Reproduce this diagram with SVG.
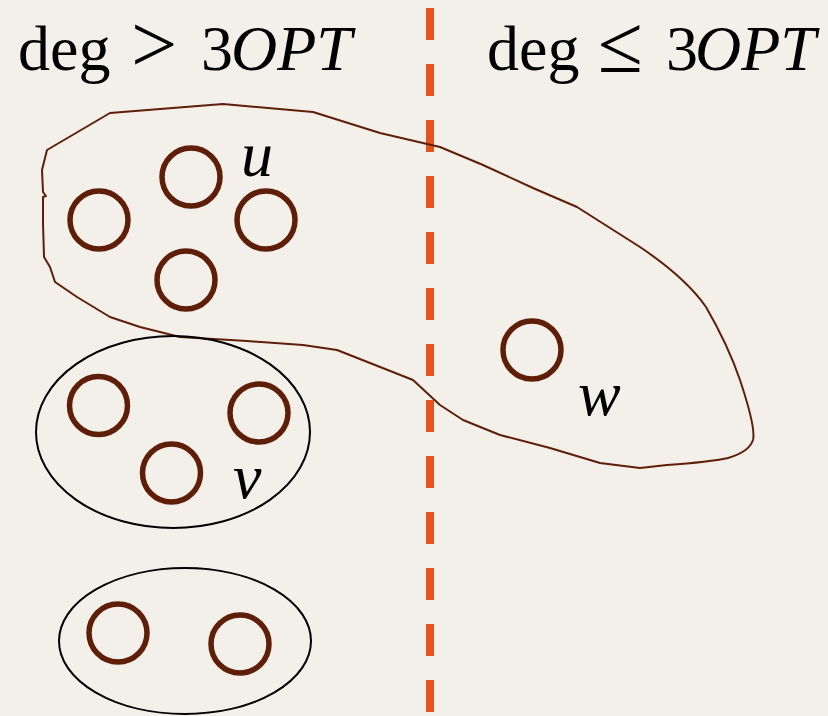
<svg xmlns="http://www.w3.org/2000/svg" width="828" height="716" viewBox="0 0 828 716">
<style>
.bg{fill:#f3f0ea}
.v{fill:none;stroke:#5e1e08;stroke-width:5.5}
.grp{fill:none;stroke:#000;stroke-width:2}
.blob{fill:none;stroke:#5e1e08;stroke-width:2;stroke-linejoin:round;stroke-linecap:round}
.hd{font-family:"Liberation Serif","Times New Roman",serif;font-size:64px;fill:#000}
.op{font-size:82px}
.it{font-style:italic}
.lbl{font-family:"Liberation Serif","Times New Roman",serif;font-size:64px;font-style:italic;fill:#000}
.div{stroke:#e5531f;stroke-width:8;stroke-dasharray:32 24;fill:none}
</style>
<rect class="bg" x="0" y="0" width="828" height="716"/>
<g id="divider">
<line class="div" x1="430" y1="8" x2="430" y2="716"/>
</g>
<g id="heading-left">
<text class="hd" y="70"><tspan x="18">deg</tspan><tspan x="131" class="op" y="72">&gt;</tspan><tspan x="201" y="70">3</tspan><tspan x="231" class="it">OPT</tspan></text>
</g>
<g id="heading-right">
<text class="hd" y="70"><tspan x="487">deg</tspan><tspan x="598" class="op" y="72">≤</tspan><tspan x="666" y="70">3</tspan><tspan x="695" class="it">OPT</tspan></text>
</g>
<g id="cluster-u">
<path class="blob" d="M47,150 L110,113 L223,104 L313,112 L380,133 L440,147 L483,165 L533,188 L577,207 L640,247 Q686,278 706,307 Q728,345 740,380 Q756,428 753,440 Q749,452 728,458 Q710,462 667,465 L640,468 L600,463 L550,448 L500,435 L463,420 L440,405 L413,380 L370,363 L337,350 L303,345 L247,341 L180,337 L140,327 L110,317 L77,297 L55,282 L50,267 L44,257 L43,223 L43,197 L46,196 L43,192 L42,170 Z"/>
</g>
<g id="node-u1"><circle class="v" cx="99" cy="220" r="29"/></g>
<g id="node-u2"><circle class="v" cx="191" cy="177" r="29"/></g>
<g id="node-u3"><circle class="v" cx="266" cy="220" r="29"/></g>
<g id="node-u4"><circle class="v" cx="186" cy="280" r="29"/></g>
<g id="label-u"><text class="lbl" x="241" y="176">u</text></g>
<g id="node-w"><circle class="v" cx="532" cy="350" r="29"/></g>
<g id="label-w"><text class="lbl" x="578" y="415">w</text></g>
<g id="cluster-v">
<ellipse class="grp" cx="173" cy="432" rx="137" ry="96"/>
</g>
<g id="node-v1"><circle class="v" cx="98.5" cy="405.5" r="29"/></g>
<g id="node-v2"><circle class="v" cx="259" cy="413" r="29"/></g>
<g id="node-v3"><circle class="v" cx="171.5" cy="473" r="29"/></g>
<g id="label-v"><text class="lbl" x="233" y="498">v</text></g>
<g id="cluster-3">
<ellipse class="grp" cx="185" cy="641" rx="126" ry="73"/>
</g>
<g id="node-x1"><circle class="v" cx="118" cy="633" r="29"/></g>
<g id="node-x2"><circle class="v" cx="240" cy="644" r="29"/></g>
</svg>
